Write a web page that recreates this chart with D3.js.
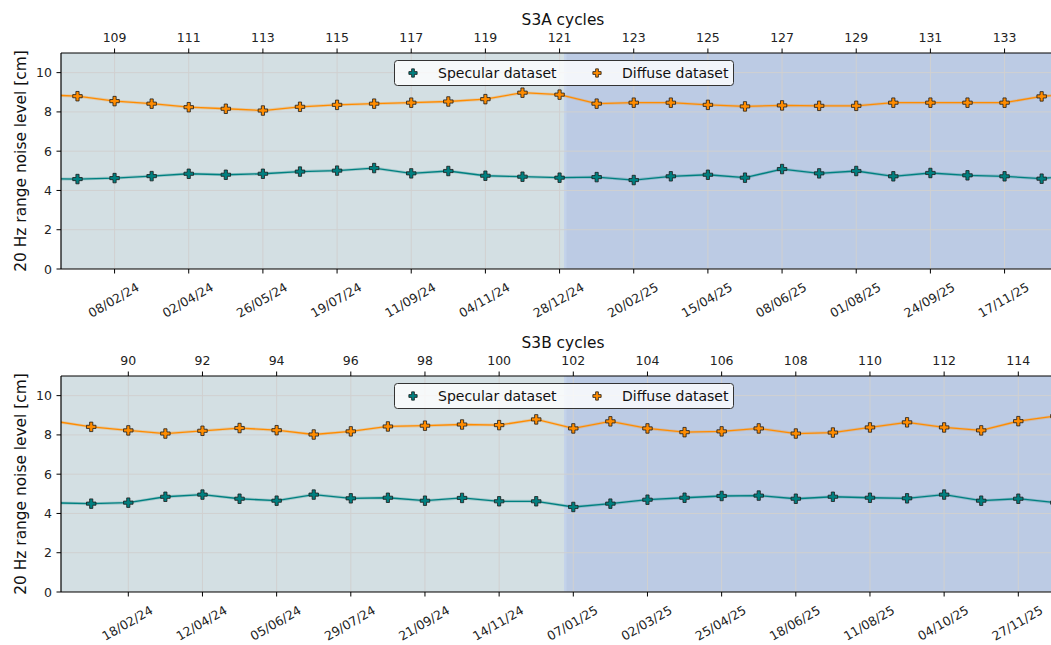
<!DOCTYPE html>
<html>
<head>
<meta charset="utf-8">
<script src="https://cdn.jsdelivr.net/npm/d3@7/dist/d3.min.js"></script>
<style>
  html, body { margin: 0; padding: 0; background: #ffffff; }
  svg { display: block; font-family: "DejaVu Sans", sans-serif; }
</style>
</head>
<body>
<svg id="chart" width="1051" height="645"></svg>
<script>
// ---- S3A panel data (one value per 27-day cycle) ----
const s3aCycles   = [107, 108, 109, 110, 111, 112, 113, 114, 115, 116, 117, 118, 119, 120, 121,
                     122, 123, 124, 125, 126, 127, 128, 129, 130, 131, 132, 133, 134, 135];
const s3aSpecular = [4.60, 4.58, 4.63, 4.73, 4.85, 4.80, 4.85, 4.96, 5.01, 5.14, 4.87, 4.99, 4.75, 4.70, 4.65,
                     4.68, 4.53, 4.72, 4.80, 4.65, 5.09, 4.87, 4.99, 4.72, 4.89, 4.77, 4.72, 4.60, 4.80];
const s3aDiffuse  = [8.88, 8.80, 8.55, 8.42, 8.24, 8.16, 8.07, 8.26, 8.36, 8.42, 8.47, 8.53, 8.65, 8.98, 8.88,
                     8.42, 8.47, 8.47, 8.36, 8.28, 8.33, 8.31, 8.31, 8.47, 8.47, 8.47, 8.47, 8.79, 8.95];
const s3aTickCycles = [109, 111, 113, 115, 117, 119, 121, 123, 125, 127, 129, 131, 133];
const s3aDateLabels = ["08/02/24", "02/04/24", "26/05/24", "19/07/24", "11/09/24", "04/11/24", "28/12/24",
                       "20/02/25", "15/04/25", "08/06/25", "01/08/25", "24/09/25", "17/11/25"];

// ---- S3B panel data ----
const s3bCycles   = [88, 89, 90, 91, 92, 93, 94, 95, 96, 97, 98, 99, 100, 101,
                     102, 103, 104, 105, 106, 107, 108, 109, 110, 111, 112, 113, 114, 115];
const s3bSpecular = [4.54, 4.50, 4.55, 4.85, 4.96, 4.75, 4.65, 4.96, 4.77, 4.80, 4.65, 4.79, 4.62, 4.62,
                     4.33, 4.50, 4.70, 4.80, 4.89, 4.91, 4.75, 4.85, 4.80, 4.77, 4.96, 4.65, 4.75, 4.55];
const s3bDiffuse  = [8.70, 8.41, 8.23, 8.07, 8.21, 8.35, 8.24, 8.02, 8.18, 8.43, 8.47, 8.53, 8.50, 8.79,
                     8.33, 8.69, 8.33, 8.14, 8.18, 8.33, 8.07, 8.12, 8.38, 8.64, 8.38, 8.23, 8.70, 8.96];
const s3bTickCycles = [90, 92, 94, 96, 98, 100, 102, 104, 106, 108, 110, 112, 114];
const s3bDateLabels = ["18/02/24", "12/04/24", "05/06/24", "29/07/24", "21/09/24", "14/11/24", "07/01/25",
                       "02/03/25", "25/04/25", "18/06/25", "11/08/25", "04/10/25", "27/11/25"];

const yTicks = [0, 2, 4, 6, 8, 10];
const seriesNames = ["Specular dataset", "Diffuse dataset"];
const seriesColors = ["#008080", "#ff8c00"];

// Reference cycle start dates; cycles repeat every 27 days
const CYCLE_DAYS = 27;
const s3aRef = { cycle: 109, date: new Date(Date.UTC(2024, 1, 8)) };
const s3bRef = { cycle: 90,  date: new Date(Date.UTC(2024, 1, 18)) };
const periodSplit = new Date(Date.UTC(2025, 0, 1));
const timeDomain = [new Date(Date.UTC(2023, 11, 31)), new Date(Date.UTC(2025, 11, 31))];

function cycleDate(ref, c) {
  return new Date(ref.date.getTime() + (c - ref.cycle) * CYCLE_DAYS * 86400000);
}

const svg = d3.select("#chart");
const plotLeft = 61, plotRight = 1065;
const x = d3.scaleUtc().domain(timeDomain).range([plotLeft, plotRight]);

const panels = [
  { id: "a", title: "S3A cycles", ref: s3aRef, cycles: s3aCycles, spec: s3aSpecular, diff: s3aDiffuse,
    ticks: s3aTickCycles, dates: s3aDateLabels, top: 53, bottom: 269 },
  { id: "b", title: "S3B cycles", ref: s3bRef, cycles: s3bCycles, spec: s3bSpecular, diff: s3bDiffuse,
    ticks: s3bTickCycles, dates: s3bDateLabels, top: 376, bottom: 592 }
];

const crossSym = d3.symbol().type(d3.symbolCross);

panels.forEach(p => {
  const y = d3.scaleLinear().domain([0, 11]).range([p.bottom, p.top]);
  const g = svg.append("g");

  g.append("clipPath").attr("id", "clip-" + p.id)
    .append("rect").attr("x", plotLeft).attr("y", p.top)
    .attr("width", plotRight - plotLeft).attr("height", p.bottom - p.top);

  const area = g.append("g").attr("clip-path", `url(#clip-${p.id})`);

  // background periods: 2024 and 2025
  area.append("rect")
    .attr("x", x(timeDomain[0])).attr("y", p.top)
    .attr("width", x(periodSplit) - x(timeDomain[0])).attr("height", p.bottom - p.top)
    .attr("fill", "#d3dfe3");
  area.append("rect")
    .attr("x", x(periodSplit)).attr("y", p.top)
    .attr("width", x(timeDomain[1]) - x(periodSplit)).attr("height", p.bottom - p.top)
    .attr("fill", "#bccbe4");
  area.append("rect")
    .attr("x", x(periodSplit) - 1).attr("y", p.top)
    .attr("width", 2.5).attr("height", p.bottom - p.top)
    .attr("fill", "#c3d2ea");

  // grid
  const tickX = p.ticks.map(c => x(cycleDate(p.ref, c)));
  area.selectAll(".vg").data(tickX).join("line")
    .attr("x1", d => d).attr("x2", d => d).attr("y1", p.top).attr("y2", p.bottom)
    .attr("stroke", "#d0d0d0").attr("stroke-width", 1);
  area.selectAll(".hg").data(yTicks).join("line")
    .attr("x1", plotLeft).attr("x2", plotRight).attr("y1", d => y(d)).attr("y2", d => y(d))
    .attr("stroke", "#d0d0d0").attr("stroke-width", 1);

  // series lines and markers
  [p.spec, p.diff].forEach((vals, si) => {
    const pts = p.cycles.map((c, i) => ({ t: cycleDate(p.ref, c), v: vals[i] }));
    const line = d3.line().x(d => x(d.t)).y(d => y(d.v));
    area.append("path").datum(pts).attr("d", line)
      .attr("fill", "none").attr("stroke", seriesColors[si])
      .attr("stroke-opacity", 0.25).attr("stroke-width", 3);
    area.append("path").datum(pts).attr("d", line)
      .attr("fill", "none").attr("stroke", seriesColors[si]).attr("stroke-width", 1.3);
    area.selectAll(".m" + si).data(pts).join("path")
      .attr("transform", d => `translate(${x(d.t)},${y(d.v)})`)
      .attr("d", crossSym.size(50)())
      .attr("fill", seriesColors[si]).attr("stroke", "#1a1a1a").attr("stroke-width", 0.8);
  });

  // spines
  g.append("line").attr("x1", plotLeft).attr("x2", plotRight).attr("y1", p.top).attr("y2", p.top)
    .attr("stroke", "#000").attr("stroke-width", 1.2);
  g.append("line").attr("x1", plotLeft).attr("x2", plotRight).attr("y1", p.bottom).attr("y2", p.bottom)
    .attr("stroke", "#000").attr("stroke-width", 1.2);
  g.append("line").attr("x1", plotLeft).attr("x2", plotLeft).attr("y1", p.top).attr("y2", p.bottom)
    .attr("stroke", "#000").attr("stroke-width", 1.2);

  // y axis
  const yAxis = g.append("g");
  yTicks.forEach(v => {
    yAxis.append("line").attr("x1", plotLeft - 4.5).attr("x2", plotLeft).attr("y1", y(v)).attr("y2", y(v))
      .attr("stroke", "#000").attr("stroke-width", 1);
    yAxis.append("text").attr("x", plotLeft - 9).attr("y", y(v)).attr("text-anchor", "end")
      .attr("dominant-baseline", "central").attr("font-size", "12.5px").attr("fill", "#222").text(v);
  });
  g.append("text")
    .attr("transform", `translate(21,${(p.top + p.bottom) / 2}) rotate(-90)`)
    .attr("text-anchor", "middle").attr("dominant-baseline", "central")
    .attr("font-size", "15.4px").attr("fill", "#111").text("20 Hz range noise level [cm]");

  // top axis: cycle numbers
  p.ticks.forEach((c, i) => {
    const tx = tickX[i];
    g.append("line").attr("x1", tx).attr("x2", tx).attr("y1", p.top - 4.5).attr("y2", p.top)
      .attr("stroke", "#000").attr("stroke-width", 1);
    g.append("text").attr("x", tx).attr("y", p.top - 16).attr("text-anchor", "middle")
      .attr("dominant-baseline", "central").attr("font-size", "12.5px").attr("fill", "#222").text(c);
    // bottom axis: cycle start dates
    g.append("line").attr("x1", tx).attr("x2", tx).attr("y1", p.bottom).attr("y2", p.bottom + 4.5)
      .attr("stroke", "#000").attr("stroke-width", 1);
    g.append("text")
      .attr("transform", `translate(${tx - 1},${p.bottom + 31}) rotate(-30)`)
      .attr("text-anchor", "middle").attr("dominant-baseline", "central")
      .attr("font-size", "12.5px").attr("fill", "#222").text(p.dates[i]);
  });
  g.append("text").attr("x", (plotLeft + plotRight) / 2).attr("y", p.top - 33)
    .attr("text-anchor", "middle").attr("dominant-baseline", "central")
    .attr("font-size", "15.4px").attr("fill", "#111").text(p.title);

  // legend
  const lg = g.append("g").attr("transform", `translate(394,${p.top + 7})`);
  lg.append("rect").attr("x", 0.5).attr("y", 0.5).attr("width", 339).attr("height", 25)
    .attr("rx", 3).attr("fill", "#ffffff").attr("fill-opacity", 0.8)
    .attr("stroke", "#333").attr("stroke-width", 1);
  const entryX = [19, 203];
  seriesNames.forEach((name, si) => {
    lg.append("path").attr("transform", `translate(${entryX[si]},13)`)
      .attr("d", crossSym.size(38)())
      .attr("fill", seriesColors[si]).attr("stroke", "#1a1a1a").attr("stroke-width", 0.8);
    lg.append("text").attr("x", entryX[si] + 25).attr("y", 13)
      .attr("dominant-baseline", "central").attr("font-size", "14px").attr("fill", "#111").text(name);
  });
});
</script>
</body>
</html>
